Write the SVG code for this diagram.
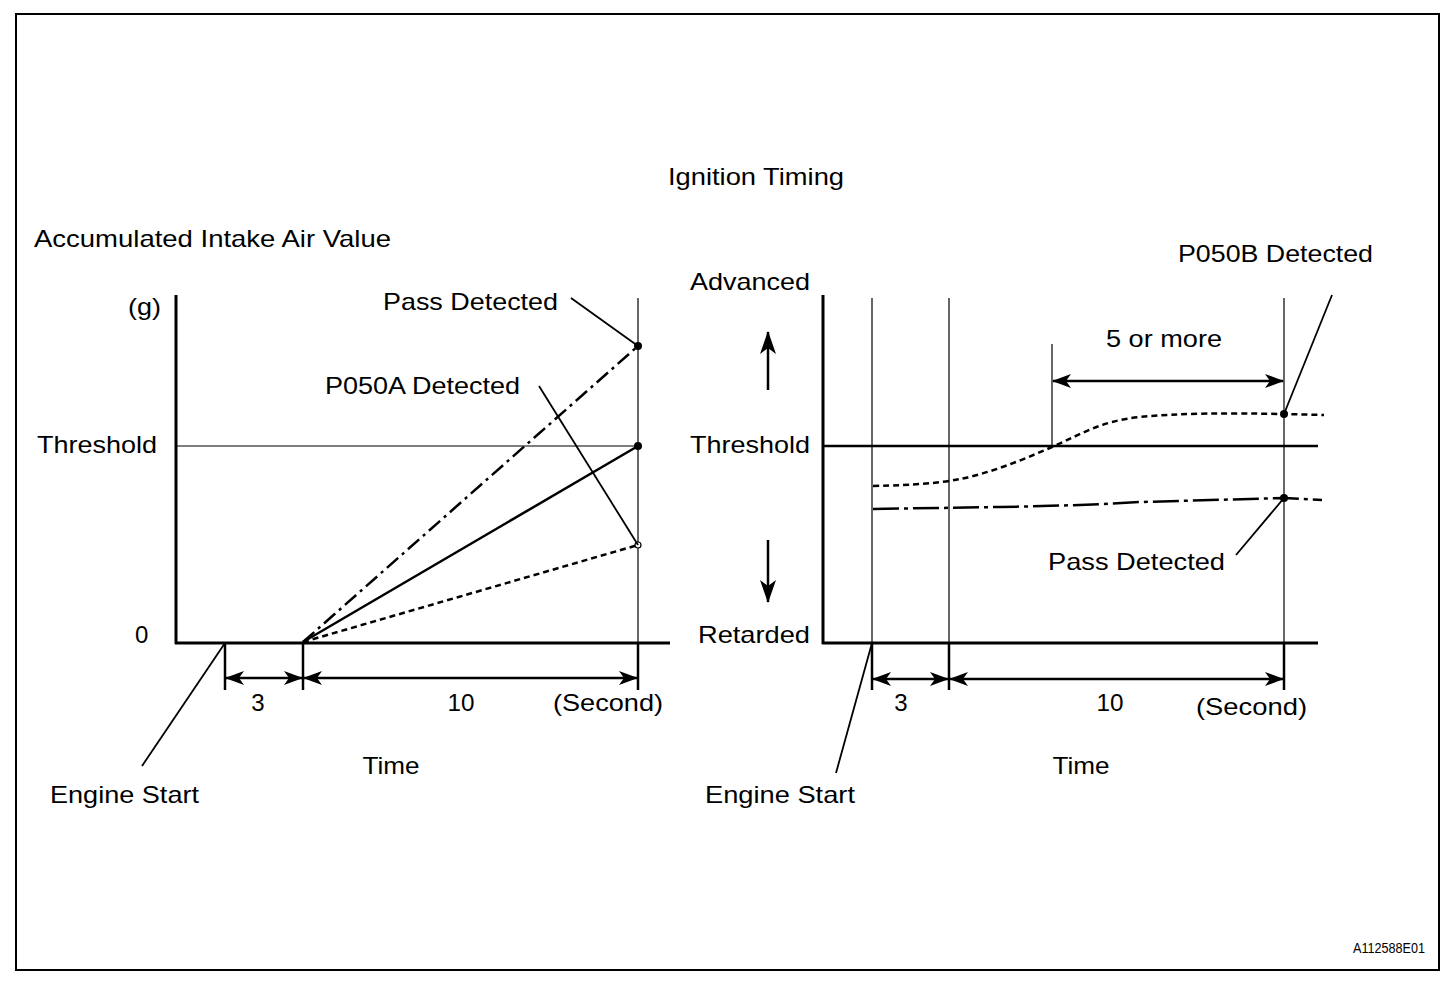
<svg xmlns="http://www.w3.org/2000/svg" width="1456" height="982" viewBox="0 0 1456 982">
<style>
text{font-family:"Liberation Sans",Arial,sans-serif;font-size:24px;fill:#000}
.small{font-size:14px}
.ax{stroke:#000;stroke-width:3;fill:none}
.thin{stroke:#000;stroke-width:1.2;fill:none}
.med{stroke:#000;stroke-width:2.5;fill:none}
.lead{stroke:#000;stroke-width:1.8;fill:none}
.dim{stroke:#000;stroke-width:2.5;fill:none;marker-start:url(#ah);marker-end:url(#ah)}
.dash{stroke:#000;stroke-width:2.5;fill:none;stroke-dasharray:6 4}
.dashdot{stroke:#000;stroke-width:2.5;fill:none;stroke-dasharray:15 5 3 5}
.dashdot2{stroke:#000;stroke-width:2.5;fill:none;stroke-dasharray:26 5 4 5}
</style>
<defs>
<marker id="ah" viewBox="-20 -9 22 18" refX="0" refY="0" markerWidth="22" markerHeight="18" markerUnits="userSpaceOnUse" orient="auto-start-reverse">
<path d="M1,0 L-18,-7 L-13,0 L-18,7 Z" fill="#000"/>
</marker>
<marker id="ahv" viewBox="-24 -10 26 20" refX="0" refY="0" markerWidth="26" markerHeight="20" markerUnits="userSpaceOnUse" orient="auto">
<path d="M1,0 L-22,-8 L-16,0 L-22,8 Z" fill="#000"/>
</marker>
</defs>
<rect x="16" y="14" width="1423" height="956" fill="#fff" stroke="#000" stroke-width="2"/>
<text x="668" y="185" textLength="176" lengthAdjust="spacingAndGlyphs">Ignition Timing</text>
<g id="left-chart">
<g id="left-axes">
<line class="ax" x1="176" y1="295" x2="176" y2="644"/>
<line class="ax" x1="175" y1="643" x2="670" y2="643"/>
<line class="thin" x1="176" y1="446" x2="638" y2="446"/>
<line class="thin" x1="638" y1="298" x2="638" y2="643"/>
<line class="med" x1="225" y1="643" x2="225" y2="690"/>
<line class="med" x1="303" y1="643" x2="303" y2="690"/>
<line class="med" x1="638" y1="643" x2="638" y2="690"/>
</g>
<g id="left-curves">
<line class="dashdot" x1="303" y1="642" x2="638" y2="346"/>
<line class="med" x1="303" y1="642" x2="638" y2="446"/>
<line class="dash" x1="303" y1="642" x2="638" y2="545"/>
<circle cx="638" cy="346" r="4" fill="#000"/>
<circle cx="638" cy="446" r="4" fill="#000"/>
<circle cx="638" cy="545" r="3" fill="#fff" stroke="#000" stroke-width="1.2"/>
</g>
<g id="left-connectors">
<line class="lead" x1="571" y1="298" x2="638" y2="346"/>
<line class="lead" x1="539" y1="386" x2="638" y2="545"/>
<line class="lead" x1="225" y1="643" x2="142" y2="766"/>
<line class="dim" x1="226" y1="678" x2="302" y2="678"/>
<line class="dim" x1="304" y1="678" x2="637" y2="678"/>
</g>
<g id="left-labels">
<text x="34" y="247" textLength="357" lengthAdjust="spacingAndGlyphs">Accumulated Intake Air Value</text>
<text x="128" y="315" textLength="33" lengthAdjust="spacingAndGlyphs">(g)</text>
<text x="37" y="453" textLength="120" lengthAdjust="spacingAndGlyphs">Threshold</text>
<text x="135" y="643">0</text>
<text x="383" y="310" textLength="175" lengthAdjust="spacingAndGlyphs">Pass Detected</text>
<text x="325" y="394" textLength="195" lengthAdjust="spacingAndGlyphs">P050A Detected</text>
<text x="258" y="711" text-anchor="middle">3</text>
<text x="461" y="711" text-anchor="middle" textLength="27" lengthAdjust="spacingAndGlyphs">10</text>
<text x="553" y="711" textLength="110" lengthAdjust="spacingAndGlyphs">(Second)</text>
<text x="391" y="774" text-anchor="middle" textLength="57" lengthAdjust="spacingAndGlyphs">Time</text>
<text x="50" y="803" textLength="149" lengthAdjust="spacingAndGlyphs">Engine Start</text>
</g>
</g>
<g id="right-chart">
<g id="right-axes">
<line class="ax" x1="823" y1="295" x2="823" y2="644"/>
<line class="ax" x1="822" y1="643" x2="1318" y2="643"/>
<line class="med" x1="823" y1="446" x2="1318" y2="446"/>
<line class="thin" x1="872" y1="298" x2="872" y2="643"/>
<line class="thin" x1="949" y1="298" x2="949" y2="643"/>
<line class="thin" x1="1284" y1="298" x2="1284" y2="643"/>
<line class="thin" x1="1052" y1="344" x2="1052" y2="446"/>
<line class="med" x1="872" y1="643" x2="872" y2="690"/>
<line class="med" x1="949" y1="643" x2="949" y2="690"/>
<line class="med" x1="1284" y1="643" x2="1284" y2="690"/>
</g>
<g id="right-curves">
<path class="dash" d="M873,486 C915,485 940,483 960,479 C990,473 1020,461 1052,447 C1080,435 1100,421 1140,417 C1180,413 1230,413 1284,414 L1324,415"/>
<path class="dashdot2" d="M873,509 L1000,507 C1050,506 1090,505 1140,502 L1284,498 L1322,500"/>
<circle cx="1284" cy="414" r="4" fill="#000"/>
<circle cx="1284" cy="498" r="4" fill="#000"/>
</g>
<g id="right-connectors">
<line class="lead" x1="1332" y1="295" x2="1284" y2="414"/>
<line class="lead" x1="1236" y1="555" x2="1284" y2="498"/>
<line class="lead" x1="872" y1="643" x2="836" y2="773"/>
<line class="dim" x1="1053" y1="381" x2="1283" y2="381"/>
<line class="dim" x1="873" y1="679" x2="948" y2="679"/>
<line class="dim" x1="950" y1="679" x2="1283" y2="679"/>
<line class="med" x1="768" y1="390" x2="768" y2="332" marker-end="url(#ahv)"/>
<line class="med" x1="768" y1="540" x2="768" y2="602" marker-end="url(#ahv)"/>
</g>
<g id="right-labels">
<text x="1178" y="262" textLength="195" lengthAdjust="spacingAndGlyphs">P050B Detected</text>
<text x="690" y="290" textLength="120" lengthAdjust="spacingAndGlyphs">Advanced</text>
<text x="1106" y="347" textLength="116" lengthAdjust="spacingAndGlyphs">5 or more</text>
<text x="690" y="453" textLength="120" lengthAdjust="spacingAndGlyphs">Threshold</text>
<text x="1048" y="570" textLength="177" lengthAdjust="spacingAndGlyphs">Pass Detected</text>
<text x="698" y="643" textLength="112" lengthAdjust="spacingAndGlyphs">Retarded</text>
<text x="901" y="711" text-anchor="middle">3</text>
<text x="1110" y="711" text-anchor="middle" textLength="27" lengthAdjust="spacingAndGlyphs">10</text>
<text x="1196" y="715" textLength="111" lengthAdjust="spacingAndGlyphs">(Second)</text>
<text x="1081" y="774" text-anchor="middle" textLength="57" lengthAdjust="spacingAndGlyphs">Time</text>
<text x="705" y="803" textLength="150" lengthAdjust="spacingAndGlyphs">Engine Start</text>
</g>
</g>
<text class="small" x="1353" y="953" textLength="72" lengthAdjust="spacingAndGlyphs">A112588E01</text>
</svg>
